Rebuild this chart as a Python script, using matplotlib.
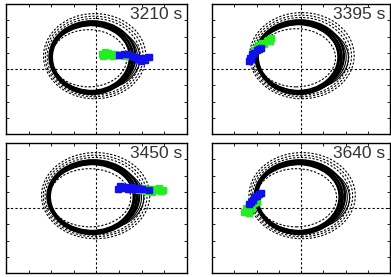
import matplotlib
matplotlib.use("Agg")
import matplotlib.pyplot as plt
from matplotlib.patches import Ellipse

plt.rcParams['font.family'] = ['Liberation Sans', 'DejaVu Sans']

# panel labels
labels = ["3210 s", "3395 s", "3450 s", "3640 s"]

# solid orbit: centre x, centre y, half width, half height
orbit_cx = [-0.22, -0.10, -0.18, -0.09]
orbit_cy = [0.71, 0.74, 0.68, 0.68]
orbit_rx = [1.84, 1.93, 1.97, 1.97]
orbit_ry = [2.12, 2.15, 2.15, 2.15]

# spread of the overlapping solid loops (dx, dy, drx, dry)
loop_shift = [(0.0, 0.0, 0.0, 0.0), (-0.05, -0.05, -0.07, -0.08),
              (0.04, 0.05, 0.06, 0.06), (-0.03, 0.02, -0.12, -0.04),
              (0.0, -0.03, -0.03, 0.10)]
thin_shift = [(0.10, -0.02, 0.10, -0.06), (0.15, -0.04, 0.15, -0.10)]

# dotted envelope loops relative to the orbit (dx, dy, drx, dry)
band_shift = [(0.14, 0.08, 0.42, 0.50), (0.12, 0.06, 0.32, 0.36),
              (0.10, 0.04, 0.22, 0.24), (-0.12, -0.05, -0.16, -0.36)]

# green / blue trajectories
green_x = [
    [0.25, 0.30, 0.38, 0.45, 0.52, 0.60, 0.68, 0.75, 0.82, 0.95, 1.10, 1.25, 1.40],
    [-2.10, -2.00, -1.90, -1.85, -1.75, -1.65, -1.55, -1.48, -1.40, -1.33],
    [1.60, 1.75, 1.90, 2.05, 2.20, 2.35, 2.45, 2.55, 2.65, 2.75, 2.85, 2.95],
    [-2.55, -2.45, -2.35, -2.30, -2.20, -2.10, -2.00],
]
green_y = [
    [0.95, 0.80, 1.05, 0.90, 1.00, 0.85, 0.95, 0.80, 0.90, 0.85, 0.88, 0.82, 0.85],
    [1.20, 1.35, 1.50, 1.40, 1.60, 1.55, 1.70, 1.80, 1.75, 1.90],
    [1.15, 1.20, 1.10, 1.25, 1.05, 1.15, 1.00, 1.20, 1.10, 1.25, 1.05, 1.10],
    [-0.25, 0.00, -0.30, 0.10, 0.00, 0.30, 0.35],
]
blue_x = [
    [1.00, 1.20, 1.40, 1.55, 1.70, 1.85, 1.95, 2.05, 2.15, 2.30],
    [-2.35, -2.30, -2.25, -2.20, -2.10, -2.00, -1.90, -1.80],
    [0.95, 1.05, 1.15, 1.25, 1.40, 1.55, 1.70, 1.85, 2.00, 2.30],
    [-2.35, -2.25, -2.15, -2.10, -2.00, -1.90, -1.80],
]
blue_y = [
    [0.85, 0.95, 0.90, 0.80, 0.75, 0.60, 0.50, 0.65, 0.55, 0.75],
    [0.50, 0.70, 0.60, 0.90, 1.00, 1.15, 1.25, 1.30],
    [1.20, 1.35, 1.25, 1.30, 1.20, 1.30, 1.15, 1.25, 1.20, 1.10],
    [0.25, 0.40, 0.50, 0.65, 0.75, 0.85, 0.90],
]

fig = plt.figure(figsize=(3.91, 2.77), dpi=100)
W, H = 391.0, 277.0
boxes = [(6, 4, 181), (212, 4, 178), (6, 143, 181), (212, 143, 178)]
ah = 130

for i in range(4):
    x0, y0, aw = boxes[i]
    ax = fig.add_axes([x0 / W, 1 - (y0 + ah) / H, aw / W, ah / H])
    ax.set_xlim(-4, 4)
    ax.set_ylim(-4, 4)
    ax.set_xticks(range(-3, 4))
    ax.set_yticks(range(-3, 4))
    ax.set_xticklabels([])
    ax.set_yticklabels([])
    ax.tick_params(direction='in', length=2.5, width=0.6, top=True, right=True)
    for s in ax.spines.values():
        s.set_linewidth(1.0)

    ax.axhline(0, color='k', ls=(0, (2, 2)), lw=0.8)
    ax.axvline(0, color='k', ls=(0, (2, 2)), lw=0.8)

    cx, cy, rx, ry = orbit_cx[i], orbit_cy[i], orbit_rx[i], orbit_ry[i]
    for dx, dy, drx, dry in band_shift:
        ax.add_patch(Ellipse((cx + dx, cy + dy), 2 * (rx + drx), 2 * (ry + dry),
                             fill=False, ec='k', lw=0.8, ls=(0, (2, 1.5))))
    for dx, dy, drx, dry in loop_shift:
        ax.add_patch(Ellipse((cx + dx, cy + dy), 2 * (rx + drx), 2 * (ry + dry),
                             fill=False, ec='k', lw=1.6))
    for dx, dy, drx, dry in thin_shift:
        ax.add_patch(Ellipse((cx + dx, cy + dy), 2 * (rx + drx), 2 * (ry + dry),
                             fill=False, ec='k', lw=0.8))

    ax.plot(green_x[i], green_y[i], '-s', color='#22ee22', ms=4, lw=2, mec='#22ee22')
    ax.plot(blue_x[i], blue_y[i], '-s', color='#1010ee', ms=4, lw=2, mec='#1010ee')

    ax.text(0.975, 0.975, labels[i], transform=ax.transAxes, ha='right', va='top',
            fontsize=12.5, color='#333333')

fig.savefig("out.png", dpi=100)
